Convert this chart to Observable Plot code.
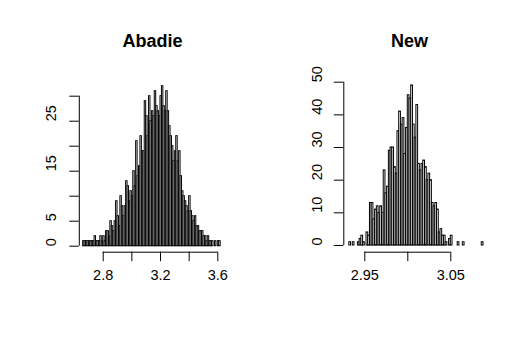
<!DOCTYPE html>
<html>
<head>
<meta charset="utf-8">
<script src="https://cdn.jsdelivr.net/npm/d3@7"></script>
<script src="https://cdn.jsdelivr.net/npm/@observablehq/plot@0.6"></script>
<style>
html, body { margin: 0; padding: 0; background: #fff; }
#wrap { position: relative; width: 529px; height: 350px; overflow: hidden; font-family: "Liberation Sans", Arial, Helvetica, sans-serif; }
#wrap svg { position: absolute; top: 0; }
.title { position: absolute; font-weight: bold; font-size: 18px; line-height: 18px; transform: translate(-50%, -50%); white-space: nowrap; color: #000; }
</style>
</head>
<body>
<div id="wrap"></div>
<script>
// ---- Data: panel titles ----
const leftTitle = "Abadie";
const rightTitle = "New";

// ---- Left histogram (Abadie): bins start, bin width, counts ----
const leftStart = 2.66;
const leftStep = 0.01;
const leftCounts = [
  1,1,1,1,1,1,1,1,
  2,1,1,1,2,1,2,1,
  3,3,2,5,4,3,5,9,
  6,4,10,8,6,8,13,12,
  9,11,10,15,12,21,14,16,
  22,19,19,29,26,22,30,25,
  27,26,31,28,27,26,30,32,
  28,27,31,27,24,22,20,17,
  19,22,17,19,14,11,10,9,
  8,7,10,7,6,5,6,4,
  4,3,3,3,2,2,1,2,
  1,1,1,0,1,0,1,1];
const leftXTicks = [2.8, 3.0, 3.2, 3.4, 3.6];
const leftXLabels = [2.8, 3.2, 3.6];
const leftYTicks = [0, 5, 10, 15, 20, 25, 30];
const leftYLabels = [0, 5, 15, 25];

// ---- Right histogram (New) ----
const rightStart = 2.932;
const rightStep = 0.002;
const rightCounts = [1,0,1,0,0,1,2,3,1,0,4,3,
  13,13,8,11,12,10,12,10,
  23,16,18,29,30,30,24,22,35,41,
  37,39,28,36,46,45,49,37,33,43,
  25,23,25,26,24,20,22,20,13,12,
  13,11,4,5,3,3,1,0,2,3,
  0,0,0,1,0,0,1,0,0,0,
  0,0,0,0,0,0,0,1];
const rightXTicks = [2.95, 3.00, 3.05];
const rightXLabels = [2.95, 3.05];
const rightYTicks = [0, 10, 20, 30, 40, 50];
const rightYLabels = [0, 10, 20, 30, 40, 50];

function bins(start, step, counts) {
  return counts.map((c, i) => ({x1: start + i * step, x2: start + (i + 1) * step, count: c}))
               .filter(d => d.count > 0);
}

function panel(o) {
  return Plot.plot({
    width: o.width, height: 350,
    marginLeft: o.mL, marginRight: o.mR, marginTop: o.mT, marginBottom: o.mB,
    x: {domain: o.xDom},
    y: {domain: o.yDom},
    style: {fontFamily: '"Liberation Sans", Arial, Helvetica, sans-serif', fontSize: "14.5px", background: "transparent", overflow: "visible", color: "#000"},
    marks: [
      Plot.rectY(bins(o.start, o.step, o.counts), {x1: "x1", x2: "x2", y1: 0, y2: "count", fill: "white", stroke: "black", strokeWidth: 1}),
      // y axis
      Plot.ruleX([o.xDom[0]], {y1: o.yTicks[0], y2: o.yTicks[o.yTicks.length - 1], stroke: "black"}),
      Plot.axisY({ticks: o.yTicks, tickSize: 9.5, tickFormat: () => "", label: null}),
      Plot.text(o.yLabels, {y: d => d, text: d => String(d), frameAnchor: "left", dx: o.yLabDx, rotate: -90, fontSize: 14.5, fill: "black"}),
      // x axis
      Plot.ruleY([o.yDom[0]], {x1: o.xTicks[0], x2: o.xTicks[o.xTicks.length - 1], stroke: "black"}),
      Plot.axisX({ticks: o.xTicks, tickSize: 9.5, tickFormat: () => "", label: null}),
      Plot.text(o.xLabels, {x: d => d, text: d => d.toFixed(o.digits), frameAnchor: "bottom", dy: 28, fontSize: 14.5, fill: "black"})
    ]
  });
}

const wrap = document.getElementById("wrap");

const left = panel({
  width: 264, mL: 78.8, mR: 38, mT: 79.3, mB: 98.3,
  xDom: [2.8 - 23.9 / 143.25, 3.6 + 8.7 / 143.25],
  yDom: [-6 / 5, (245.7 - 79.3) / 5],
  start: leftStart, step: leftStep, counts: leftCounts,
  xTicks: leftXTicks, xLabels: leftXLabels, yTicks: leftYTicks, yLabels: leftYLabels,
  yLabDx: -28, digits: 1
});
left.style.left = "0px";
wrap.appendChild(left);

const right = panel({
  width: 265, mL: 79.3, mR: 41, mT: 78.4, mB: 98.3,
  xDom: [2.95 - 21 / 860, 3.05 + 37.7 / 860],
  yDom: [-6.7 / 3.266, 50 + 3.3 / 3.266],
  start: rightStart, step: rightStep, counts: rightCounts,
  xTicks: rightXTicks, xLabels: rightXLabels, yTicks: rightYTicks, yLabels: rightYLabels,
  yLabDx: -26.6, digits: 2
});
right.style.left = "264px";
wrap.appendChild(right);

function addTitle(text, cx, cy) {
  const d = document.createElement("div");
  d.className = "title";
  d.textContent = text;
  d.style.left = cx + "px";
  d.style.top = cy + "px";
  wrap.appendChild(d);
}
addTitle(leftTitle, 152.5, 41);
addTitle(rightTitle, 409.5, 41);
</script>
</body>
</html>
